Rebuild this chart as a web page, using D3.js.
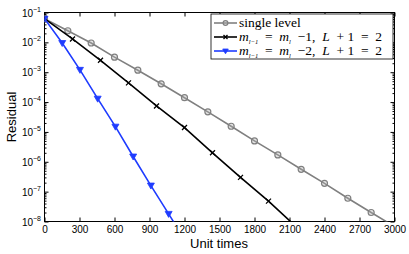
<html>
<head>
<script src="https://d3js.org/d3.v7.min.js"></script>
<style>
  body { margin: 0; background: #fff; }
  svg text { font-family: 'Liberation Sans', Arial, sans-serif; }
  svg text.serif { font-family: 'Liberation Serif', 'Times New Roman', Times, serif; }
  .tick text { font-size: 10px; }
</style>
</head>
<body>
<svg id="chart" width="409" height="254"></svg>
<script>
// single level, sampled every 200 unit times
var singleX = [0, 200, 400, 600, 800, 1000, 1200, 1400, 1600, 1800, 2000, 2200, 2400, 2600, 2800, 3000];
var singleY = [6.2e-2, 2.45e-2, 9.5e-3, 3.2e-3, 1.17e-3, 4.1e-4, 1.4e-4, 4.7e-5, 1.55e-5, 5.0e-6, 1.7e-6, 5.6e-7, 1.9e-7, 6.0e-8, 2.0e-8, 6.8e-9];
// m_{l-1} = m_l - 1
var twoLevX = [0, 240, 480, 720, 960, 1200, 1440, 1680, 1920, 2160];
var twoLevY = [6.2e-2, 1.3e-2, 2.5e-3, 4.4e-4, 7.4e-5, 1.4e-5, 2.0e-6, 3.0e-7, 4.8e-8, 6.5e-9];
// m_{l-1} = m_l - 2
var fastX = [0, 152, 304, 456, 608, 760, 912, 1064, 1216];
var fastY = [6.2e-2, 9.5e-3, 1.2e-3, 1.3e-4, 1.5e-5, 1.5e-6, 1.6e-7, 1.8e-8, 2.0e-9];

var xTicks = [0, 300, 600, 900, 1200, 1500, 1800, 2100, 2400, 2700, 3000];
var yExps = [-1, -2, -3, -4, -5, -6, -7, -8];

(function () {
var svg = d3.select("#chart");
var mLeft = 44.5, mRight = 394.5, mTop = 12.5, mBottom = 221.5;

var x = d3.scaleLinear().domain([0, 3000]).range([mLeft, mRight]);
var y = d3.scaleLog().domain([1e-8, 1e-1]).range([mBottom, mTop]);

svg.append("clipPath").attr("id", "clip")
  .append("rect").attr("x", mLeft).attr("y", mTop)
  .attr("width", mRight - mLeft).attr("height", mBottom - mTop);

var majors = yExps.map(function (e) { return Math.pow(10, e); });
// minor log ticks
var minors = [];
yExps.slice(1).forEach(function (e) {
  for (var k = 2; k <= 9; k++) minors.push(k * Math.pow(10, e));
});

// bottom axis
var gx = svg.append("g").attr("transform", "translate(0," + mBottom + ")")
  .call(d3.axisBottom(x).tickValues(xTicks).tickSize(-4).tickPadding(4).tickFormat(d3.format("d")));
gx.selectAll("text").attr("fill", "#000");
// top axis
svg.append("g").attr("transform", "translate(0," + mTop + ")")
  .call(d3.axisTop(x).tickValues(xTicks).tickSize(-4).tickFormat(""));
// left axis
svg.append("g").attr("transform", "translate(" + mLeft + ",0)")
  .call(d3.axisLeft(y).tickValues(majors).tickSize(-4).tickFormat(""));
svg.append("g").attr("transform", "translate(" + mLeft + ",0)")
  .call(d3.axisLeft(y).tickValues(minors).tickSize(-2).tickFormat(""));
// right axis
svg.append("g").attr("transform", "translate(" + mRight + ",0)")
  .call(d3.axisRight(y).tickValues(majors).tickSize(-4).tickFormat(""));
svg.append("g").attr("transform", "translate(" + mRight + ",0)")
  .call(d3.axisRight(y).tickValues(minors).tickSize(-2).tickFormat(""));
svg.selectAll(".domain").remove();

svg.append("rect").attr("x", mLeft).attr("y", mTop)
  .attr("width", mRight - mLeft).attr("height", mBottom - mTop)
  .attr("fill", "none").attr("stroke", "#000").attr("stroke-width", 1);

// y tick labels 10^e
yExps.forEach(function (e) {
  var t = svg.append("text")
    .attr("x", 41).attr("y", y(Math.pow(10, e)) + 4)
    .attr("text-anchor", "end")
    .attr("font-size", 10);
  t.append("tspan").text("10");
  t.append("tspan").attr("font-size", 7).attr("dy", -5).text("\u2212" + Math.abs(e));
});

// axis titles
svg.append("text").attr("x", 219).attr("y", 248)
  .attr("text-anchor", "middle").attr("font-size", 13)
  .text("Unit times");
svg.append("text").attr("transform", "translate(16," + ((mTop + mBottom) / 2) + ") rotate(-90)")
  .attr("text-anchor", "middle").attr("font-size", 13)
  .text("Residual");

var line = d3.line()
  .x(function (d) { return x(d[0]); })
  .y(function (d) { return y(d[1]); });

function zip(xs, ys) { return xs.map(function (v, i) { return [v, ys[i]]; }); }

var series = [
  { data: zip(singleX, singleY), color: "#808080", marker: "circle" },
  { data: zip(twoLevX, twoLevY), color: "#000000", marker: "cross" },
  { data: zip(fastX, fastY), color: "#1f3cff", marker: "tri" }
];

var plot = svg.append("g").attr("clip-path", "url(#clip)");

function drawMarker(g, kind, color, cx, cy, sc) {
  sc = sc || 1;
  if (kind === "circle") {
    g.append("circle").attr("cx", cx).attr("cy", cy).attr("r", 3 * sc)
      .attr("fill", "#b0b0b0").attr("fill-opacity", 0.35)
      .attr("stroke", color).attr("stroke-width", 1.2);
  } else if (kind === "cross") {
    var a = 2.5 * sc;
    g.append("path")
      .attr("d", "M" + (cx - a) + "," + (cy - a) + "L" + (cx + a) + "," + (cy + a) +
        "M" + (cx - a) + "," + (cy + a) + "L" + (cx + a) + "," + (cy - a))
      .attr("stroke", color).attr("stroke-width", 1.3);
  } else {
    var w = 3.5 * sc, h = 2.5 * sc;
    g.append("path")
      .attr("d", "M" + (cx - w) + "," + (cy - h) + "L" + (cx + w) + "," + (cy - h) +
        "L" + cx + "," + (cy + w) + "Z")
      .attr("fill", color).attr("stroke", color).attr("stroke-width", 0.8);
  }
}

series.forEach(function (s) {
  plot.append("path").datum(s.data)
    .attr("d", line).attr("fill", "none")
    .attr("stroke", s.color).attr("stroke-width", 1.6);
  s.data.forEach(function (d) {
    drawMarker(plot, s.marker, s.color, x(d[0]), y(d[1]));
  });
});

// legend
var lg = svg.append("g");
lg.append("rect").attr("x", 211).attr("y", 14).attr("width", 182).attr("height", 45)
  .attr("fill", "#fff").attr("stroke", "#000").attr("stroke-width", 0.8);

var rows = [23, 37, 51];
series.forEach(function (s, i) {
  lg.append("line").attr("x1", 214).attr("x2", 237).attr("y1", rows[i]).attr("y2", rows[i])
    .attr("stroke", s.color).attr("stroke-width", 1.6);
  drawMarker(lg, s.marker, s.color, 225.5, rows[i], 0.8);
});

function legendText(i) {
  return lg.append("text").attr("class", "serif").attr("x", 239).attr("y", rows[i] + 4)
    .attr("font-size", 13.5);
}
legendText(0).text("single level");

function mathRow(i, k) {
  var t = legendText(i).attr("xml:space", "preserve");
  t.append("tspan").attr("font-style", "italic").text("m");
  t.append("tspan").attr("font-style", "italic").attr("font-size", 6.5).attr("dy", 3).text("l\u22121");
  t.append("tspan").attr("dy", -3).text("  =  ");
  t.append("tspan").attr("font-style", "italic").text("m");
  t.append("tspan").attr("font-style", "italic").attr("font-size", 6.5).attr("dy", 3).text("l");
  t.append("tspan").attr("dy", -3).text("  \u2212" + k + ",  ");
  t.append("tspan").attr("font-style", "italic").text("L");
  t.append("tspan").text("  + 1  =  2");
}
mathRow(1, 1);
mathRow(2, 2);
})();
</script>
</body>
</html>
